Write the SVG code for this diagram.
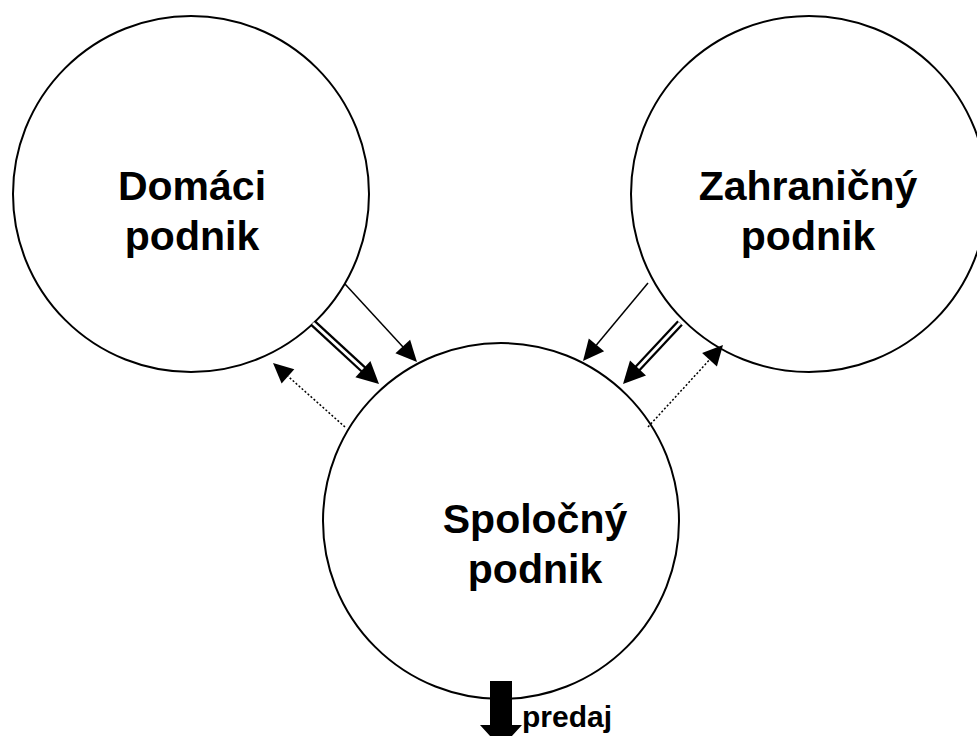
<svg xmlns="http://www.w3.org/2000/svg" width="977" height="736" viewBox="0 0 977 736">
  <style>
    .node { fill: #fff; stroke: #000; stroke-width: 2; }
    .label { font-family: "Liberation Sans", Arial, sans-serif; font-weight: bold; font-size: 41px; fill: #000; text-anchor: middle; }
    .small { font-family: "Liberation Sans", Arial, sans-serif; font-weight: bold; font-size: 30px; fill: #000; }
    .thin { stroke: #000; stroke-width: 1.5; fill: none; }
    .dbl-out { stroke: #000; stroke-width: 7.5; fill: none; }
    .dbl-in { stroke: #fff; stroke-width: 3; fill: none; }
    .dot { stroke: #000; stroke-width: 1.5; stroke-dasharray: 2 2; fill: none; }
    .head { fill: #000; stroke: none; }
  </style>
  <rect width="977" height="736" fill="#fff"/>

  <g id="domaci">
    <circle class="node" cx="191" cy="194" r="178"/>
    <text class="label" x="192" y="200">Domáci</text>
    <text class="label" x="192" y="250">podnik</text>
  </g>

  <g id="zahranicny">
    <circle class="node" cx="809" cy="194" r="178"/>
    <text class="label" x="808" y="200">Zahraničný</text>
    <text class="label" x="808" y="250">podnik</text>
  </g>

  <g id="spolocny">
    <circle class="node" cx="501" cy="521" r="178"/>
    <text class="label" x="535" y="533">Spoločný</text>
    <text class="label" x="535" y="583">podnik</text>
  </g>

  <g id="connectors">
    <!-- Domáci -> Spoločný, single line -->
    <line class="thin" x1="345" y1="284" x2="403" y2="347"/>
    <polygon class="head" points="417,362 395.4,353.3 410.1,339.8"/>
    <!-- Domáci -> Spoločný, double line -->
    <line class="dbl-out" x1="313" y1="323" x2="363.5" y2="369.6"/>
    <line class="dbl-in" x1="313" y1="323" x2="363.5" y2="369.6"/>
    <polygon class="head" points="379,384 355.4,377.2 370.4,361"/>
    <!-- Spoločný -> Domáci, dotted -->
    <line class="dot" x1="345" y1="427" x2="288" y2="376.3"/>
    <polygon class="head" points="273,363 294.3,369.2 281.6,383.4"/>

    <!-- Zahraničný -> Spoločný, single line -->
    <line class="thin" x1="648" y1="283" x2="596.4" y2="344.9"/>
    <polygon class="head" points="583,361 588.8,338.5 604.1,351.3"/>
    <!-- Zahraničný -> Spoločný, double line -->
    <line class="dbl-out" x1="680" y1="323" x2="637.5" y2="368.5"/>
    <line class="dbl-in" x1="680" y1="323" x2="637.5" y2="368.5"/>
    <polygon class="head" points="623,384 630,360.4 646,375.4"/>
    <!-- Spoločný -> Zahraničný, dotted -->
    <line class="dot" x1="648" y1="427" x2="709.5" y2="359.8"/>
    <polygon class="head" points="723,345 716.9,366.5 702.1,353"/>

    <!-- output arrow -->
    <polygon class="head" points="490,681 512,681 512,725 522,725 501,748 480,725 490,725"/>
  </g>

  <g id="predaj">
    <text class="small" x="522" y="727">predaj</text>
  </g>
</svg>
